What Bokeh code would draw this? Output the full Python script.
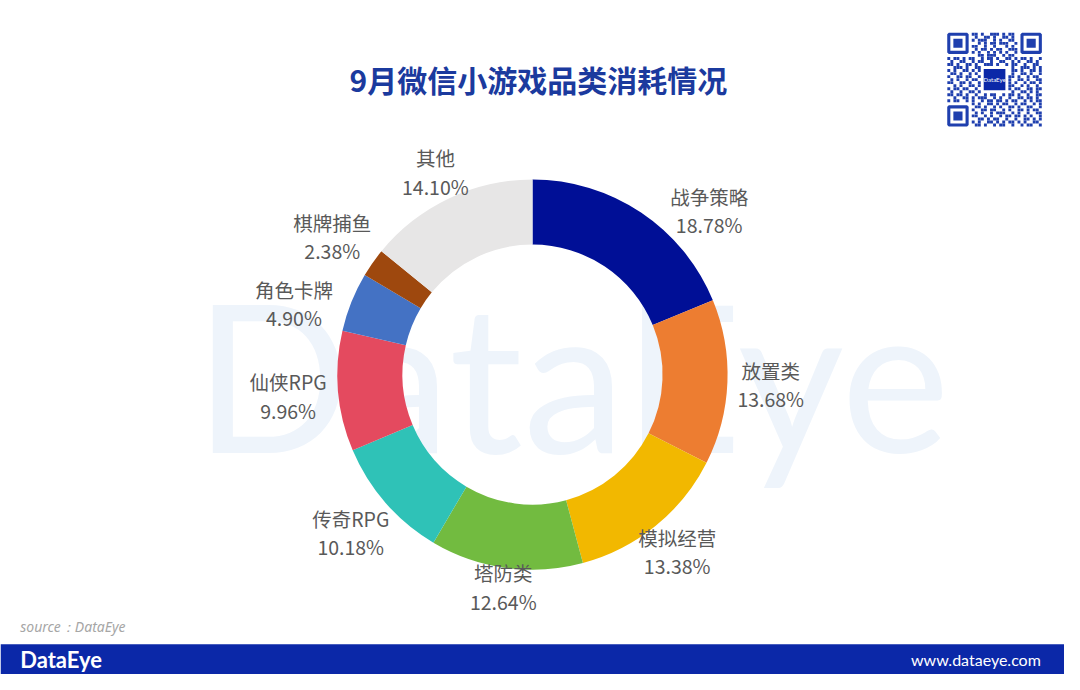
import math
from bokeh.plotting import figure
from bokeh.models import Range1d, ColumnDataSource
from bokeh.core.properties import value
from bokeh.embed import file_html
from bokeh.resources import INLINE

# ---------------- data ----------------
categories = ["战争策略", "放置类", "模拟经营", "塔防类", "传奇RPG", "仙侠RPG", "角色卡牌", "棋牌捕鱼", "其他"]
shares = [18.78, 13.68, 13.38, 12.64, 10.18, 9.96, 4.90, 2.38, 14.10]
colors = ["#000f96", "#ed7d31", "#f2b800", "#72bb40", "#2fc2b7", "#e44a5f", "#4472c4", "#9e480e", "#e7e6e6"]
title_text = "9月微信小游戏品类消耗情况"
source_text = "source：DataEye"

# ---------------- layout ----------------
W, H = 1080, 690
def Y(y):  # reference pixel row -> data y
    return H - y

CX, CY = 540, Y(383)
R_OUT, R_IN = 198, 132
# label placement: radius and angle nudge (degrees) per slice
label_r = [246, 242, 233, 219, 245, 249, 253, 248, 230]
label_nudge = [13, 0, 0, 0, 0, 0, -5, 0, 0]

p = figure(width=1064, height=674, output_backend="svg", toolbar_location=None,
           x_range=Range1d(0, W), y_range=Range1d(0, H), min_border=0)
p.axis.visible = False
p.grid.visible = False
p.outline_line_color = None
p.background_fill_color = "white"
p.border_fill_color = "white"

# watermark
p.text(x=[580], y=[Y(382)], text=["DataEye"], text_font=value("Lato"), text_font_size="206px",
       text_color="#eef4fb", text_align="center", text_baseline="middle")

# donut
total = sum(shares)
cum = 0.0
starts, ends, mids = [], [], []
for s in shares:
    a0 = math.pi / 2 - 2 * math.pi * cum / total
    cum += s
    a1 = math.pi / 2 - 2 * math.pi * cum / total
    starts.append(a1)
    ends.append(a0)
    mids.append((a0 + a1) / 2)

src = ColumnDataSource(dict(start=starts, end=ends, color=colors))
p.annular_wedge(x=CX, y=CY, inner_radius=R_IN, outer_radius=R_OUT, start_angle="start",
                end_angle="end", fill_color="color", line_color=None, source=src)

# labels
lx, ly1, ly2, t1, t2 = [], [], [], [], []
for i, (c, s) in enumerate(zip(categories, shares)):
    a = mids[i] - math.radians(label_nudge[i])
    x = CX + label_r[i] * math.cos(a)
    y = CY + label_r[i] * math.sin(a)
    lx.append(x)
    ly1.append(y + 14)
    ly2.append(y - 15)
    t1.append(c)
    t2.append(f"{s:.2f}%")
p.text(x=lx, y=ly1, text=t1, text_font=value("Noto Sans CJK SC"), text_font_size="19.5px",
       text_color="#595959", text_align="center", text_baseline="middle")
p.text(x=lx, y=ly2, text=t2, text_font=value("Noto Sans CJK SC"), text_font_size="19.5px",
       text_color="#595959", text_align="center", text_baseline="middle")

# title
p.text(x=[546], y=[Y(80)], text=[title_text], text_font=value("Noto Sans CJK SC"),
       text_font_size="30px", text_font_style="bold", text_color="#1b3a9e",
       text_align="center", text_baseline="middle")

# source
p.text(x=[20], y=[Y(641)], text=[source_text], text_font=value("Noto Sans"), text_font_size="14px",
       text_font_style="italic", text_color="#a6a6a6", text_align="left", text_baseline="middle")

# bottom bar
p.quad(left=[0], right=[W], bottom=[0], top=[Y(659)], fill_color="#0b28a8", line_color=None)
p.text(x=[20], y=[Y(675)], text=["DataEye"], text_font=value("Lato"), text_font_size="22px",
       text_font_style="bold", text_color="white", text_align="left", text_baseline="middle")
p.text(x=[1056], y=[Y(675)], text=["www.dataeye.com"], text_font=value("Lato"), text_font_size="16px",
       text_color="white", text_align="right", text_baseline="middle")

# QR code decoration
qr_rows = [
    "........##.#..###.#.##.........",
    ".........#..##.#..##.#.........",
    "........#.###..#.#..##.........",
    "..........#.#.##.###..#........",
    "........##..#..#...#.#.........",
    ".........#.##.#.##..###........",
    "........#.#..#.#.#.#..#........",
    "..........##.###..#.##.........",
    "#.##.#.##..#.##.#..##.#.##.#..#",
    ".#..##..#.##..#..##..#.#..##.#.",
    "##.#..##.#..###.#..#.##..#..##.",
    "..###.#..##.#..#.##..#..###.#.#",
    "#.#..##.#.##.......#.##.#..##.#",
    ".##.#..#.#.#.......#.#..##.#..#",
    "#..##.##..#.#.......##.#..#.##.",
    ".#.#..#.##..#.......#..##.#..##",
    "##..##.#..#.#.......#.#..#.##.#",
    "..#.#..##.##........##..#.#..#.",
    "#.##.##..#.#........#.##..##.##",
    ".#..#..##.#.##.#.##..#..##.#.#.",
    "##.##.#..#..#.##..#.##.#..#..##",
    "..#..##.#.###..#.#..#..##.##.#.",
    "#.##..#.#..#.##.##.#.##..#.#.##",
    "........#.#..##.#.##..#.##..#.#",
    ".........##.#..#.#..##.#..##..#",
    "........#..##.##..#.#..##.#.##.",
    ".........#.#..#.###..#.#..#..##",
    "........##..#.#..#.##.##.#.#..#",
    "..........##.#.##..#..#..##.#.#",
    "........#.#..##.#.#.##.#.#..##.",
    ".........##.#..#.##..#..#.##..#",
]
N = 31
M = 96 / N
QX0, QY0 = 961, 33
qx, qy = [], []
for r, row in enumerate(qr_rows):
    row = (row + "." * N)[:N]
    for c, ch in enumerate(row):
        if ch != "#":
            continue
        if (r < 8 and c < 8) or (r < 8 and c > 22) or (r > 22 and c < 8):
            continue
        if 11 <= r <= 19 and 11 <= c <= 19:
            continue
        qx.append(QX0 + (c + 0.5) * M)
        qy.append(Y(QY0 + (r + 0.5) * M))
QC = "#1f3fae"
p.rect(x=qx, y=qy, width=M * 0.95, height=M * 0.95, fill_color=QC, line_color=None)
for (fc, fr) in [(0, 0), (24, 0), (0, 24)]:
    cx = QX0 + (fc + 3.5) * M
    cy = Y(QY0 + (fr + 3.5) * M)
    p.rect(x=[cx], y=[cy], width=6 * M, height=6 * M, fill_color=None, line_color=QC, line_width=M)
    p.rect(x=[cx], y=[cy], width=3 * M, height=3 * M, fill_color=QC, line_color=None)
lcx, lcy = QX0 + 15.5 * M, Y(QY0 + 15.5 * M)
p.rect(x=[lcx], y=[lcy], width=22, height=22, fill_color="#0b28a8", line_color=None)
p.text(x=[lcx], y=[lcy], text=["DataEye"], text_font=value("Lato"), text_font_size="6px",
       text_color="white", text_align="center", text_baseline="middle")

open("out.html", "w").write(file_html(p, INLINE))
